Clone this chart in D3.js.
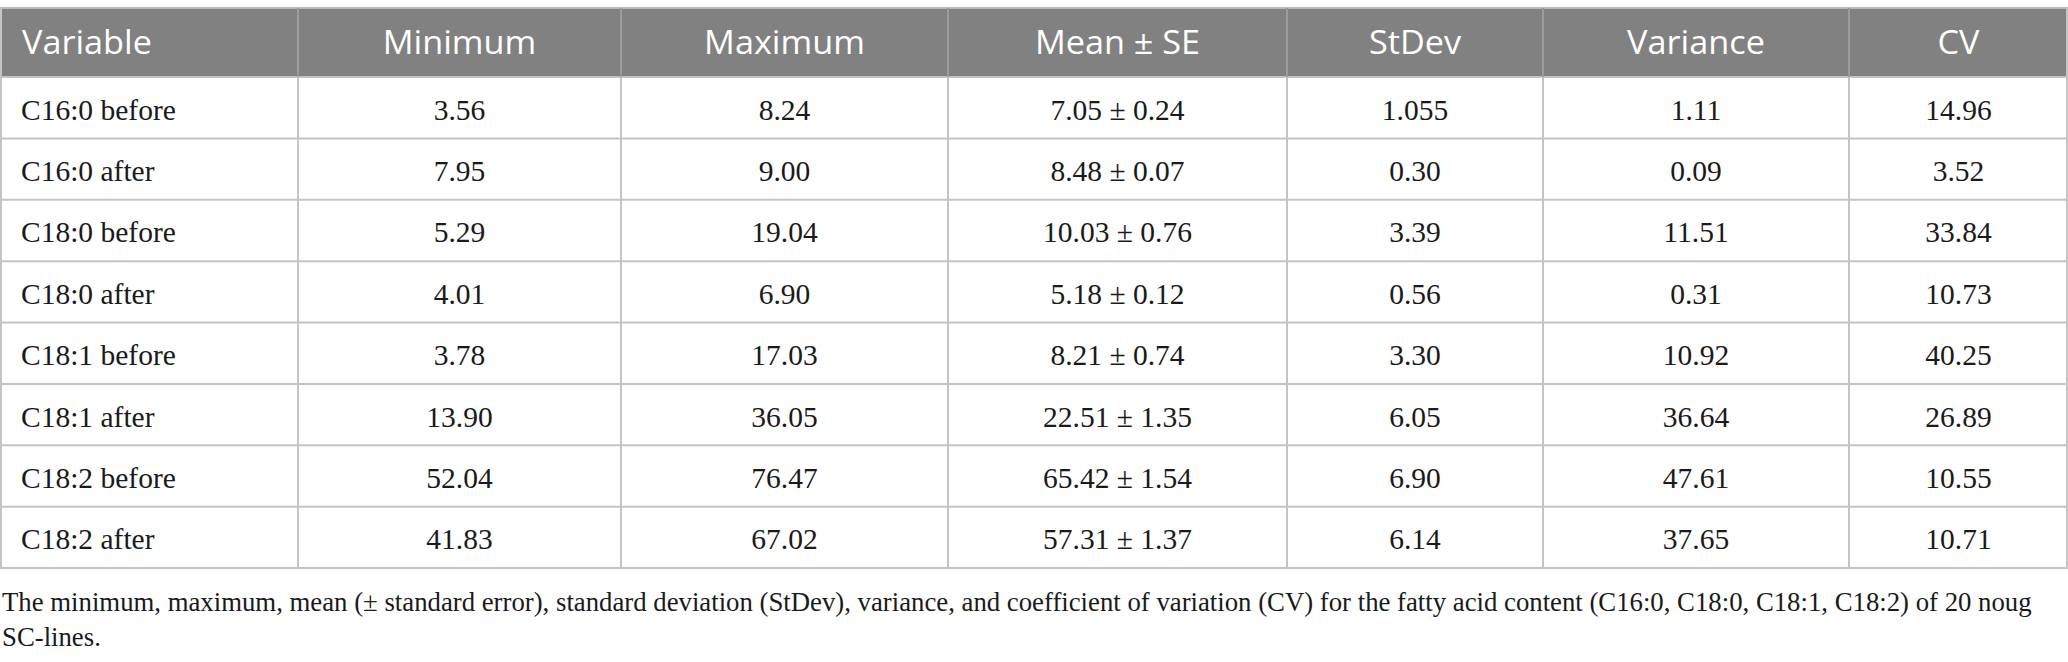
<!DOCTYPE html>
<html>
<head>
<meta charset="utf-8">
<script src="https://cdn.jsdelivr.net/npm/d3@7"></script>
<style>
  body { margin: 0; background: #fff; }
  svg { display: block; }
</style>
</head>
<body>
<script>
// table values, kept as text so the printed decimals stay as in the source
const headers = ["Variable", "Minimum", "Maximum", "Mean \u00b1 SE", "StDev", "Variance", "CV"];
const variables = ["C16:0 before", "C16:0 after", "C18:0 before", "C18:0 after",
                   "C18:1 before", "C18:1 after", "C18:2 before", "C18:2 after"];
const minimum  = ["3.56", "7.95", "5.29", "4.01", "3.78", "13.90", "52.04", "41.83"];
const maximum  = ["8.24", "9.00", "19.04", "6.90", "17.03", "36.05", "76.47", "67.02"];
const mean     = ["7.05", "8.48", "10.03", "5.18", "8.21", "22.51", "65.42", "57.31"];
const se       = ["0.24", "0.07", "0.76", "0.12", "0.74", "1.35", "1.54", "1.37"];
const stdev    = ["1.055", "0.30", "3.39", "0.56", "3.30", "6.05", "6.90", "6.14"];
const variance = ["1.11", "0.09", "11.51", "0.31", "10.92", "36.64", "47.61", "37.65"];
const cv       = ["14.96", "3.52", "33.84", "10.73", "40.25", "26.89", "10.55", "10.71"];
const captionLines = [
  "The minimum, maximum, mean (\u00b1 standard error), standard deviation (StDev), variance, and coefficient of variation (CV) for the fatty acid content (C16:0, C18:0, C18:1, C18:2) of 20 noug",
  "SC-lines."
];

// stretch text a little horizontally (the source fonts are not installed)
function fitWidth(sel, factor) {
  sel.each(function() {
    const L = this.getComputedTextLength();
    d3.select(this)
      .attr("textLength", L * factor)
      .attr("lengthAdjust", "spacingAndGlyphs");
  });
}

function main() {
  const width = 2068, height = 662;
  const colEdges = [0, 298, 621, 948, 1287, 1543, 1849, 2068];
  const top = 8, headH = 69, bottom = 568;
  const serif = "'Liberation Serif', 'DejaVu Serif', serif";

  const rows = variables.map((v, i) => [v, minimum[i], maximum[i],
    mean[i] + " \u00b1 " + se[i], stdev[i], variance[i], cv[i]]);

  const svg = d3.select("body").append("svg")
    .attr("width", width)
    .attr("height", height);

  const y = d3.scaleBand()
    .domain(variables)
    .range([top + headH, bottom]);

  const cols = headers.map((h, i) => ({
    x0: colEdges[i], x1: colEdges[i + 1], left: i === 0
  }));
  const tx = c => c.left ? c.x0 + 21 : (c.x0 + c.x1) / 2;

  // header band
  svg.append("rect")
    .attr("x", 0).attr("y", top)
    .attr("width", width).attr("height", headH)
    .attr("fill", "#808180");

  const head = svg.append("g")
    .selectAll("text")
    .data(headers)
    .join("text")
      .attr("x", (d, i) => tx(cols[i]) + (cols[i].left ? 1 : 0))
      .attr("y", top + 46)
      .attr("text-anchor", (d, i) => cols[i].left ? "start" : "middle")
      .attr("font-family", "'Open Sans', 'Noto Sans', sans-serif")
      .attr("font-size", 32)
      .attr("fill", "#fff")
      .text(d => d);
  fitWidth(head, 1.07);

  // grid lines
  const grid = svg.append("g").attr("stroke", "#c4c4c4").attr("stroke-width", 2);
  grid.selectAll("line.h")
    .data([top + headH].concat(variables.map(v => y(v) + y.bandwidth())))
    .join("line")
      .attr("class", "h")
      .attr("x1", 0).attr("x2", width)
      .attr("y1", d => d).attr("y2", d => d);
  grid.append("line")
    .attr("x1", 0).attr("x2", width)
    .attr("y1", top).attr("y2", top)
    .attr("stroke", "#b8b8b8");
  grid.selectAll("line.v")
    .data(colEdges)
    .join("line")
      .attr("class", "v")
      .attr("x1", d => Math.min(Math.max(d, 1), width - 1))
      .attr("x2", d => Math.min(Math.max(d, 1), width - 1))
      .attr("y1", top).attr("y2", bottom);
  // lighter separators inside the header
  svg.append("g")
    .selectAll("line")
    .data(colEdges.slice(1, -1))
    .join("line")
      .attr("x1", d => d).attr("x2", d => d)
      .attr("y1", top).attr("y2", top + headH)
      .attr("stroke", "#9c9c9c")
      .attr("stroke-width", 2);

  // body cells
  svg.append("g")
    .selectAll("g")
    .data(rows)
    .join("g")
      .attr("transform", (d, i) => `translate(0,${y(variables[i])})`)
    .selectAll("text")
    .data(d => d)
    .join("text")
      .attr("x", (d, i) => tx(cols[i]))
      .attr("y", y.bandwidth() / 2 + 12)
      .attr("text-anchor", (d, i) => cols[i].left ? "start" : "middle")
      .attr("font-family", serif)
      .attr("font-size", 29.5)
      .attr("fill", "#1a1a1a")
      .text(d => d);

  // caption: pick the size that makes the first line span the table
  const cap = svg.append("g")
    .selectAll("text")
    .data(captionLines)
    .join("text")
      .attr("x", 2)
      .attr("y", (d, i) => 611 + i * 35)
      .attr("font-family", serif)
      .attr("font-size", 28)
      .attr("fill", "#1a1a1a")
      .text(d => d);
  const f = 2031 / cap.node().getComputedTextLength();
  cap.attr("font-size", Math.min(28, 28 * f));
}

window.addEventListener("load", main);
</script>
</body>
</html>
